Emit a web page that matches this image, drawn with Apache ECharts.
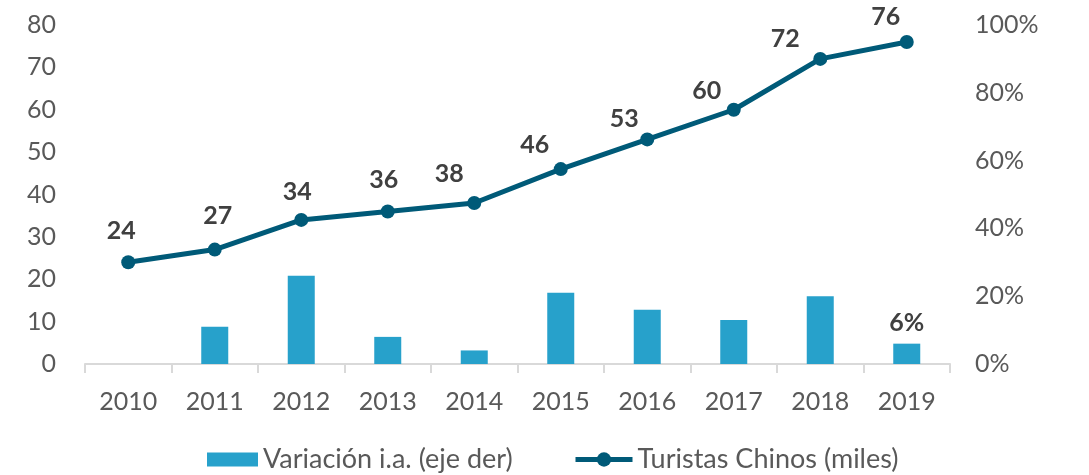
<!DOCTYPE html>
<html>
<head>
<meta charset="utf-8">
<script src="https://cdn.jsdelivr.net/npm/echarts@6/dist/echarts.min.js"></script>
<style>
  html, body { margin: 0; padding: 0; background: #fff; }
  #chart { width: 1089px; height: 475px; }
</style>
</head>
<body>
<div id="chart"></div>
<script>
var years = ['2010', '2011', '2012', '2013', '2014', '2015', '2016', '2017', '2018', '2019'];
var turistas = [24, 27, 34, 36, 38, 46, 53, 60, 72, 76];
// variacion interanual en %, 2010 sin dato
var variacion = [null, 11, 26, 8, 4, 21, 16, 13, 20, 6];
var leftTicks = [0, 80, 10];
var rightTicks = [0, 100, 20];

// desplazamiento de las etiquetas de la linea (como en el original)
var labelShift = [[-7, -31], [3, -34], [-4, -28], [-4, -32], [-25, -29],
                  [-26, -24], [-23, -20], [-27, -19], [-35, -20], [-21, -25]];

var font = 'Lato, "Open Sans", sans-serif';
var grey = '#595959';
var chart = echarts.init(document.getElementById('chart'));

var lineData = turistas.map(function (v, i) {
    return { value: v, label: { offset: labelShift[i] } };
});

var option = {
    backgroundColor: '#fff',
    animation: false,
    grid: { left: 85, right: 139, top: 25, bottom: 111 },
    legend: [{
        top: 441,
        left: 202,
        itemWidth: 51,
        itemHeight: 14,
        textStyle: { fontFamily: font, fontSize: 27, color: grey },
        data: [{ name: 'Variación i.a. (eje der)', icon: 'rect' }]
    }, {
        top: 441,
        left: 568,
        itemWidth: 57,
        itemHeight: 18,
        textStyle: { fontFamily: font, fontSize: 27, color: grey },
        data: [{ name: 'Turistas Chinos (miles)', lineStyle: { width: 5 } }]
    }],
    xAxis: {
        type: 'category',
        data: years,
        boundaryGap: true,
        axisLine: { lineStyle: { color: '#d9d9d9', width: 2 } },
        axisTick: { show: true, length: 9, lineStyle: { color: '#d9d9d9', width: 2 } },
        axisLabel: { fontFamily: font, fontSize: 25, color: grey, margin: 25 }
    },
    yAxis: [{
        type: 'value',
        min: leftTicks[0],
        max: leftTicks[1],
        interval: leftTicks[2],
        splitLine: { show: false },
        axisLine: { show: false },
        axisTick: { show: false },
        axisLabel: { fontFamily: font, fontSize: 25, color: grey, margin: 29 }
    }, {
        type: 'value',
        min: rightTicks[0],
        max: rightTicks[1],
        interval: rightTicks[2],
        splitLine: { show: false },
        axisLine: { show: false },
        axisTick: { show: false },
        axisLabel: { fontFamily: font, fontSize: 25, color: grey, margin: 25, formatter: '{value}%' }
    }],
    series: [{
        name: 'Variación i.a. (eje der)',
        type: 'bar',
        yAxisIndex: 1,
        data: variacion,
        barWidth: 27,
        itemStyle: { color: '#27a1cb' },
        label: {
            show: true,
            position: 'top',
            distance: 8,
            fontFamily: font,
            fontSize: 25,
            fontWeight: 'bold',
            color: '#404040',
            formatter: function (p) {
                return p.dataIndex === years.length - 1 ? p.value + '%' : '';
            }
        },
        z: 2
    }, {
        name: 'Turistas Chinos (miles)',
        type: 'line',
        yAxisIndex: 0,
        data: lineData,
        symbol: 'circle',
        symbolSize: 14,
        lineStyle: { color: '#005a78', width: 5 },
        itemStyle: { color: '#005a78' },
        label: {
            show: true,
            position: 'inside',
            fontFamily: font,
            fontSize: 25,
            fontWeight: 'bold',
            color: '#404040'
        },
        z: 5
    }]
};

chart.setOption(option);
</script>
</body>
</html>
